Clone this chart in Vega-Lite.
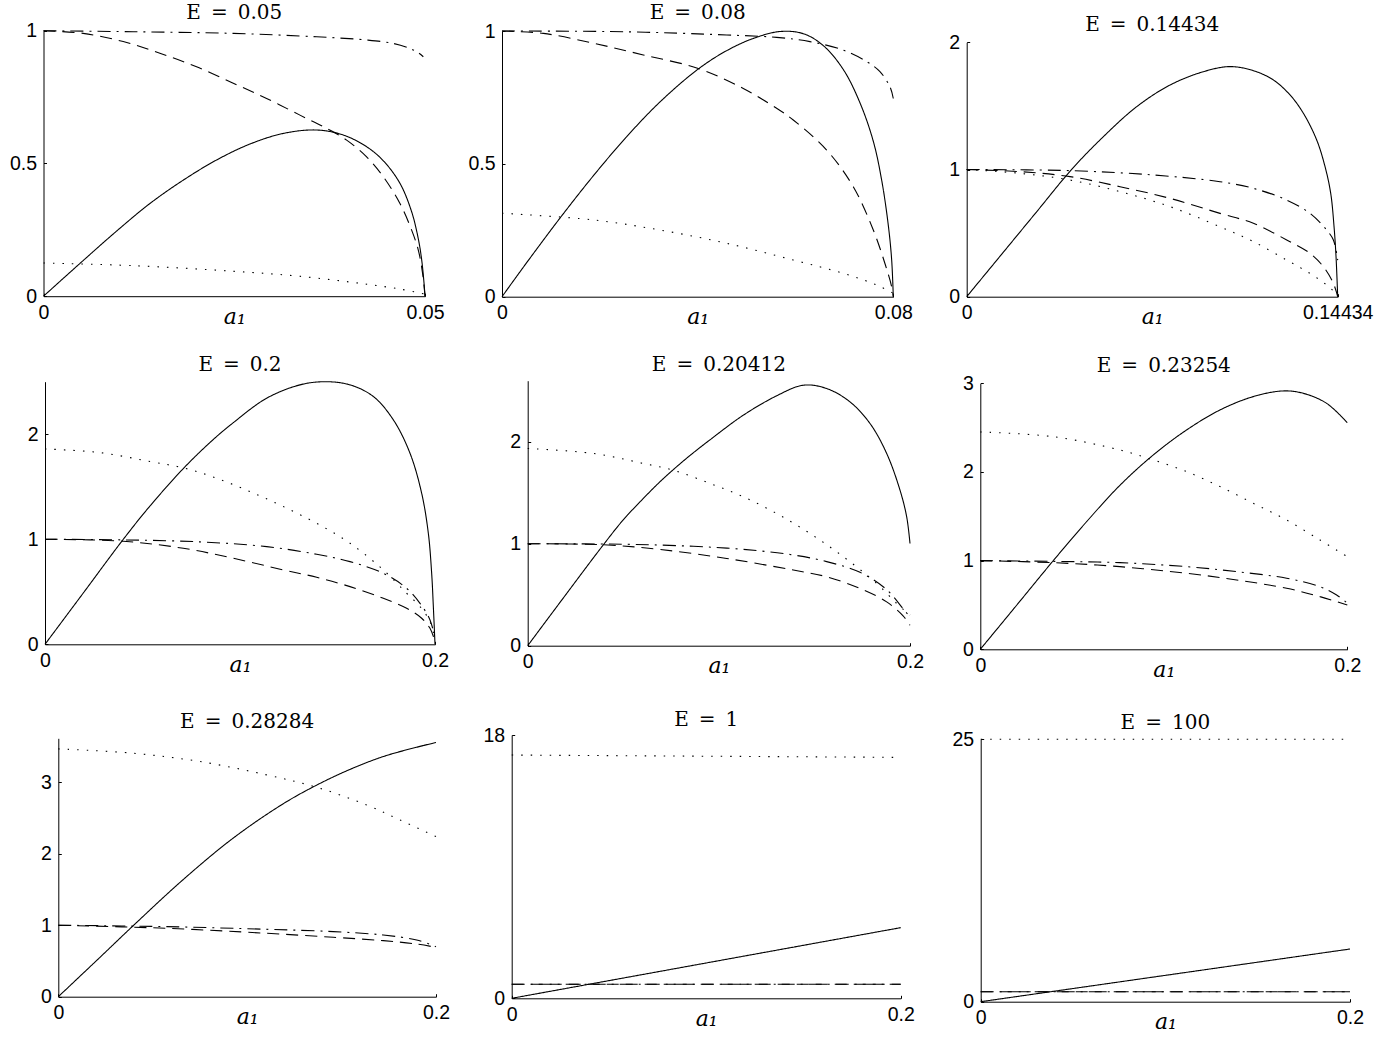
{
"$schema": "https://vega.github.io/schema/vega-lite/v6.json",
"padding": 0,
"background": "white",
"columns": 3,
"spacing": 0,
"bounds": "flush",
"align": "all",
"config": {
 "view": {"stroke": null},
 "font": "Liberation Sans",
 "axis": {"grid": false, "domainColor": "#000", "domainWidth": 1, "tickColor": "#000", "tickSize": -3, "tickWidth": 1,
   "labelFont": "Liberation Sans", "labelFontSize": 19.5, "labelColor": "#000", "labelFlush": false, "labelOverlap": false,
   "titleFont": "DejaVu Serif", "titleFontSize": 22, "titleFontStyle": "italic", "titleFontWeight": "normal", "titleColor": "#000"},
 "axisX": {"labelPadding": 10, "titleY": 27, "titleBaseline": "alphabetic", "format": ".6~g"},
 "axisY": {"labelPadding": 10, "format": ".6~g"},
 "title": {"font": "DejaVu Serif", "fontSize": 20, "fontWeight": "normal", "color": "#000", "anchor": "middle", "frame": "group", "baseline": "alphabetic"},
 "line": {"interpolate": "catmull-rom"}
},
"datasets": {
 "p1": [
  {"x":0,"y":0,"s":"solid"},{"x":0.00476,"y":0.123,"s":"solid"},{"x":0.00957,"y":0.245,"s":"solid"},{"x":0.01394,"y":0.349,"s":"solid"},{"x":0.01831,"y":0.437,"s":"solid"},{"x":0.02268,"y":0.513,"s":"solid"},{"x":0.02705,"y":0.573,"s":"solid"},{"x":0.03142,"y":0.613,"s":"solid"},{"x":0.0358,"y":0.626,"s":"solid"},{"x":0.03929,"y":0.607,"s":"solid"},{"x":0.04235,"y":0.563,"s":"solid"},{"x":0.04454,"y":0.51,"s":"solid"},{"x":0.04672,"y":0.425,"s":"solid"},{"x":0.04825,"y":0.318,"s":"solid"},{"x":0.04913,"y":0.215,"s":"solid"},{"x":0.04956,"y":0.138,"s":"solid"},{"x":0.04987,"y":0.05,"s":"solid"},{"x":0.05,"y":0,"s":"solid"},
  {"x":0,"y":1,"s":"dashed"},{"x":0.0052,"y":0.99,"s":"dashed"},{"x":0.01045,"y":0.959,"s":"dashed"},{"x":0.01525,"y":0.915,"s":"dashed"},{"x":0.02006,"y":0.864,"s":"dashed"},{"x":0.02487,"y":0.802,"s":"dashed"},{"x":0.02924,"y":0.745,"s":"dashed"},{"x":0.03361,"y":0.682,"s":"dashed"},{"x":0.03711,"y":0.632,"s":"dashed"},{"x":0.03973,"y":0.588,"s":"dashed"},{"x":0.04235,"y":0.525,"s":"dashed"},{"x":0.04454,"y":0.45,"s":"dashed"},{"x":0.04672,"y":0.349,"s":"dashed"},{"x":0.04825,"y":0.249,"s":"dashed"},{"x":0.04913,"y":0.173,"s":"dashed"},{"x":0.04969,"y":0.085,"s":"dashed"},{"x":0.05,"y":0,"s":"dashed"},
  {"x":0,"y":1,"s":"dashdot"},{"x":0.01176,"y":0.996,"s":"dashdot"},{"x":0.02487,"y":0.99,"s":"dashdot"},{"x":0.0358,"y":0.977,"s":"dashdot"},{"x":0.04235,"y":0.965,"s":"dashdot"},{"x":0.04585,"y":0.952,"s":"dashdot"},{"x":0.04803,"y":0.933,"s":"dashdot"},{"x":0.04913,"y":0.917,"s":"dashdot"},{"x":0.04978,"y":0.902,"s":"dashdot"},
  {"x":0,"y":0.125,"s":"dotted"},{"x":0.0118,"y":0.115,"s":"dotted"},{"x":0.0249,"y":0.094,"s":"dotted"},{"x":0.0336,"y":0.075,"s":"dotted"},{"x":0.0424,"y":0.045,"s":"dotted"},{"x":0.0467,"y":0.027,"s":"dotted"},{"x":0.05,"y":0.008,"s":"dotted"}
 ],
 "p2": [
  {"x":0,"y":0,"s":"solid"},{"x":0.00504,"y":0.128,"s":"solid"},{"x":0.01186,"y":0.296,"s":"solid"},{"x":0.01867,"y":0.455,"s":"solid"},{"x":0.02548,"y":0.602,"s":"solid"},{"x":0.0323,"y":0.733,"s":"solid"},{"x":0.04013,"y":0.857,"s":"solid"},{"x":0.04593,"y":0.926,"s":"solid"},{"x":0.05138,"y":0.972,"s":"solid"},{"x":0.05683,"y":0.998,"s":"solid"},{"x":0.0616,"y":0.99,"s":"solid"},{"x":0.06569,"y":0.945,"s":"solid"},{"x":0.06978,"y":0.855,"s":"solid"},{"x":0.07318,"y":0.73,"s":"solid"},{"x":0.07591,"y":0.585,"s":"solid"},{"x":0.07761,"y":0.44,"s":"solid"},{"x":0.07897,"y":0.27,"s":"solid"},{"x":0.07966,"y":0.14,"s":"solid"},{"x":0.08,"y":0,"s":"solid"},
  {"x":0,"y":1,"s":"dashed"},{"x":0.00845,"y":0.991,"s":"dashed"},{"x":0.01867,"y":0.954,"s":"dashed"},{"x":0.02889,"y":0.91,"s":"dashed"},{"x":0.04013,"y":0.859,"s":"dashed"},{"x":0.04933,"y":0.784,"s":"dashed"},{"x":0.05615,"y":0.709,"s":"dashed"},{"x":0.05955,"y":0.665,"s":"dashed"},{"x":0.06637,"y":0.552,"s":"dashed"},{"x":0.07182,"y":0.414,"s":"dashed"},{"x":0.07591,"y":0.251,"s":"dashed"},{"x":0.07829,"y":0.125,"s":"dashed"},{"x":0.07966,"y":0.038,"s":"dashed"},{"x":0.08,"y":0,"s":"dashed"},
  {"x":0,"y":1,"s":"dashdot"},{"x":0.02548,"y":0.997,"s":"dashdot"},{"x":0.04593,"y":0.985,"s":"dashdot"},{"x":0.05615,"y":0.976,"s":"dashdot"},{"x":0.06296,"y":0.96,"s":"dashdot"},{"x":0.06978,"y":0.928,"s":"dashdot"},{"x":0.07455,"y":0.885,"s":"dashdot"},{"x":0.07727,"y":0.847,"s":"dashdot"},{"x":0.07932,"y":0.79,"s":"dashdot"},{"x":0.08,"y":0.746,"s":"dashdot"},
  {"x":0,"y":0.314,"s":"dotted"},{"x":0.01867,"y":0.289,"s":"dotted"},{"x":0.0323,"y":0.251,"s":"dotted"},{"x":0.04593,"y":0.201,"s":"dotted"},{"x":0.05955,"y":0.138,"s":"dotted"},{"x":0.06978,"y":0.088,"s":"dotted"},{"x":0.07659,"y":0.044,"s":"dotted"},{"x":0.08,"y":0.013,"s":"dotted"}
 ],
 "p3": [
  {"x":0,"y":0,"s":"solid"},{"x":0.01427,"y":0.35,"s":"solid"},{"x":0.02723,"y":0.668,"s":"solid"},{"x":0.04085,"y":1.001,"s":"solid"},{"x":0.05317,"y":1.258,"s":"solid"},{"x":0.06614,"y":1.494,"s":"solid"},{"x":0.07911,"y":1.664,"s":"solid"},{"x":0.09208,"y":1.769,"s":"solid"},{"x":0.10246,"y":1.809,"s":"solid"},{"x":0.11153,"y":1.777,"s":"solid"},{"x":0.11931,"y":1.704,"s":"solid"},{"x":0.1258,"y":1.586,"s":"solid"},{"x":0.13099,"y":1.442,"s":"solid"},{"x":0.13617,"y":1.232,"s":"solid"},{"x":0.13942,"y":1.022,"s":"solid"},{"x":0.14162,"y":0.813,"s":"solid"},{"x":0.14292,"y":0.55,"s":"solid"},{"x":0.14369,"y":0.315,"s":"solid"},{"x":0.14434,"y":0,"s":"solid"},
  {"x":0,"y":1,"s":"dashdot"},{"x":0.0402,"y":0.991,"s":"dashdot"},{"x":0.07263,"y":0.957,"s":"dashdot"},{"x":0.09856,"y":0.904,"s":"dashdot"},{"x":0.11153,"y":0.852,"s":"dashdot"},{"x":0.1245,"y":0.76,"s":"dashdot"},{"x":0.13358,"y":0.655,"s":"dashdot"},{"x":0.14006,"y":0.524,"s":"dashdot"},{"x":0.14266,"y":0.446,"s":"dashdot"},{"x":0.14434,"y":0.288,"s":"dashdot"},
  {"x":0,"y":1,"s":"dashed"},{"x":0.02075,"y":0.983,"s":"dashed"},{"x":0.0402,"y":0.944,"s":"dashed"},{"x":0.05966,"y":0.865,"s":"dashed"},{"x":0.07911,"y":0.773,"s":"dashed"},{"x":0.09856,"y":0.655,"s":"dashed"},{"x":0.11153,"y":0.577,"s":"dashed"},{"x":0.1245,"y":0.446,"s":"dashed"},{"x":0.13358,"y":0.341,"s":"dashed"},{"x":0.13877,"y":0.236,"s":"dashed"},{"x":0.14266,"y":0.105,"s":"dashed"},{"x":0.14434,"y":0,"s":"dashed"},
  {"x":0,"y":1,"s":"dotted"},{"x":0.02075,"y":0.97,"s":"dotted"},{"x":0.0402,"y":0.917,"s":"dotted"},{"x":0.05966,"y":0.826,"s":"dotted"},{"x":0.07911,"y":0.708,"s":"dotted"},{"x":0.09856,"y":0.55,"s":"dotted"},{"x":0.11153,"y":0.433,"s":"dotted"},{"x":0.1245,"y":0.288,"s":"dotted"},{"x":0.13358,"y":0.183,"s":"dotted"},{"x":0.14006,"y":0.092,"s":"dotted"},{"x":0.14434,"y":0.013,"s":"dotted"}
 ],
 "p4": [
  {"x":0,"y":0,"s":"solid"},{"x":0.01966,"y":0.489,"s":"solid"},{"x":0.04017,"y":1.0,"s":"solid"},{"x":0.05385,"y":1.317,"s":"solid"},{"x":0.0718,"y":1.69,"s":"solid"},{"x":0.08632,"y":1.95,"s":"solid"},{"x":0.09658,"y":2.11,"s":"solid"},{"x":0.11368,"y":2.343,"s":"solid"},{"x":0.13077,"y":2.47,"s":"solid"},{"x":0.14359,"y":2.5,"s":"solid"},{"x":0.15641,"y":2.47,"s":"solid"},{"x":0.16838,"y":2.359,"s":"solid"},{"x":0.17863,"y":2.137,"s":"solid"},{"x":0.18718,"y":1.819,"s":"solid"},{"x":0.19316,"y":1.438,"s":"solid"},{"x":0.19658,"y":1.057,"s":"solid"},{"x":0.19829,"y":0.676,"s":"solid"},{"x":0.19915,"y":0.359,"s":"solid"},{"x":0.2,"y":0,"s":"solid"},
  {"x":0,"y":1.86,"s":"dotted"},{"x":0.02821,"y":1.825,"s":"dotted"},{"x":0.05385,"y":1.74,"s":"dotted"},{"x":0.0718,"y":1.676,"s":"dotted"},{"x":0.08803,"y":1.581,"s":"dotted"},{"x":0.10513,"y":1.454,"s":"dotted"},{"x":0.12222,"y":1.311,"s":"dotted"},{"x":0.13932,"y":1.152,"s":"dotted"},{"x":0.15641,"y":0.962,"s":"dotted"},{"x":0.1735,"y":0.708,"s":"dotted"},{"x":0.18547,"y":0.486,"s":"dotted"},{"x":0.19231,"y":0.359,"s":"dotted"},{"x":0.19744,"y":0.216,"s":"dotted"},{"x":0.2,"y":0.041,"s":"dotted"},
  {"x":0,"y":1,"s":"dashdot"},{"x":0.04017,"y":0.994,"s":"dashdot"},{"x":0.07949,"y":0.975,"s":"dashdot"},{"x":0.11368,"y":0.93,"s":"dashdot"},{"x":0.13932,"y":0.857,"s":"dashdot"},{"x":0.15641,"y":0.787,"s":"dashdot"},{"x":0.1735,"y":0.676,"s":"dashdot"},{"x":0.18547,"y":0.533,"s":"dashdot"},{"x":0.19231,"y":0.39,"s":"dashdot"},{"x":0.19744,"y":0.232,"s":"dashdot"},{"x":0.2,"y":0.057,"s":"dashdot"},
  {"x":0,"y":1,"s":"dashed"},{"x":0.04017,"y":0.981,"s":"dashed"},{"x":0.07094,"y":0.914,"s":"dashed"},{"x":0.09658,"y":0.819,"s":"dashed"},{"x":0.12222,"y":0.708,"s":"dashed"},{"x":0.13932,"y":0.638,"s":"dashed"},{"x":0.15641,"y":0.549,"s":"dashed"},{"x":0.1735,"y":0.438,"s":"dashed"},{"x":0.18547,"y":0.343,"s":"dashed"},{"x":0.19316,"y":0.248,"s":"dashed"},{"x":0.19744,"y":0.152,"s":"dashed"},{"x":0.2,"y":0.025,"s":"dashed"}
 ],
 "p5": [
  {"x":0,"y":0,"s":"solid"},{"x":0.01691,"y":0.425,"s":"solid"},{"x":0.03958,"y":0.99,"s":"solid"},{"x":0.05,"y":1.235,"s":"solid"},{"x":0.06051,"y":1.445,"s":"solid"},{"x":0.0685,"y":1.596,"s":"solid"},{"x":0.0762,"y":1.728,"s":"solid"},{"x":0.0858,"y":1.88,"s":"solid"},{"x":0.09538,"y":2.02,"s":"solid"},{"x":0.11282,"y":2.262,"s":"solid"},{"x":0.13025,"y":2.452,"s":"solid"},{"x":0.1442,"y":2.556,"s":"solid"},{"x":0.15641,"y":2.523,"s":"solid"},{"x":0.16862,"y":2.392,"s":"solid"},{"x":0.17908,"y":2.18,"s":"solid"},{"x":0.1878,"y":1.886,"s":"solid"},{"x":0.19477,"y":1.526,"s":"solid"},{"x":0.19826,"y":1.265,"s":"solid"},{"x":0.2,"y":1.003,"s":"solid"},
  {"x":0,"y":1.935,"s":"dotted"},{"x":0.03435,"y":1.886,"s":"dotted"},{"x":0.06051,"y":1.788,"s":"dotted"},{"x":0.0762,"y":1.722,"s":"dotted"},{"x":0.09538,"y":1.592,"s":"dotted"},{"x":0.11282,"y":1.461,"s":"dotted"},{"x":0.13025,"y":1.297,"s":"dotted"},{"x":0.14769,"y":1.101,"s":"dotted"},{"x":0.16513,"y":0.873,"s":"dotted"},{"x":0.18256,"y":0.611,"s":"dotted"},{"x":0.19302,"y":0.415,"s":"dotted"},{"x":0.2,"y":0.3,"s":"dotted"},
  {"x":0,"y":1,"s":"dashdot"},{"x":0.05179,"y":0.995,"s":"dashdot"},{"x":0.08666,"y":0.975,"s":"dashdot"},{"x":0.11282,"y":0.945,"s":"dashdot"},{"x":0.13897,"y":0.89,"s":"dashdot"},{"x":0.15641,"y":0.825,"s":"dashdot"},{"x":0.17384,"y":0.72,"s":"dashdot"},{"x":0.1878,"y":0.55,"s":"dashdot"},{"x":0.19651,"y":0.36,"s":"dashdot"},{"x":0.2,"y":0.28,"s":"dashdot"},
  {"x":0,"y":1,"s":"dashed"},{"x":0.03958,"y":0.99,"s":"dashed"},{"x":0.06922,"y":0.944,"s":"dashed"},{"x":0.1041,"y":0.856,"s":"dashed"},{"x":0.13897,"y":0.742,"s":"dashed"},{"x":0.15641,"y":0.676,"s":"dashed"},{"x":0.17384,"y":0.562,"s":"dashed"},{"x":0.1878,"y":0.43,"s":"dashed"},{"x":0.19651,"y":0.29,"s":"dashed"},{"x":0.2,"y":0.2,"s":"dashed"}
 ],
 "p6": [
  {"x":0,"y":0,"s":"solid"},{"x":0.01798,"y":0.451,"s":"solid"},{"x":0.03978,"y":1.0,"s":"solid"},{"x":0.05795,"y":1.44,"s":"solid"},{"x":0.07611,"y":1.85,"s":"solid"},{"x":0.09428,"y":2.192,"s":"solid"},{"x":0.11244,"y":2.474,"s":"solid"},{"x":0.13061,"y":2.699,"s":"solid"},{"x":0.14877,"y":2.85,"s":"solid"},{"x":0.16512,"y":2.914,"s":"solid"},{"x":0.17602,"y":2.887,"s":"solid"},{"x":0.18874,"y":2.774,"s":"solid"},{"x":0.2,"y":2.556,"s":"solid"},
  {"x":0,"y":2.451,"s":"dotted"},{"x":0.03978,"y":2.398,"s":"dotted"},{"x":0.07611,"y":2.248,"s":"dotted"},{"x":0.09428,"y":2.135,"s":"dotted"},{"x":0.11244,"y":2.004,"s":"dotted"},{"x":0.13061,"y":1.835,"s":"dotted"},{"x":0.14877,"y":1.647,"s":"dotted"},{"x":0.16694,"y":1.459,"s":"dotted"},{"x":0.18511,"y":1.233,"s":"dotted"},{"x":0.2,"y":1.045,"s":"dotted"},
  {"x":0,"y":1,"s":"dashdot"},{"x":0.03978,"y":0.992,"s":"dashdot"},{"x":0.07611,"y":0.977,"s":"dashdot"},{"x":0.11244,"y":0.932,"s":"dashdot"},{"x":0.13969,"y":0.876,"s":"dashdot"},{"x":0.16694,"y":0.801,"s":"dashdot"},{"x":0.18511,"y":0.707,"s":"dashdot"},{"x":0.19419,"y":0.613,"s":"dashdot"},{"x":0.2,"y":0.52,"s":"dashdot"},
  {"x":0,"y":1,"s":"dashed"},{"x":0.03978,"y":0.977,"s":"dashed"},{"x":0.07611,"y":0.932,"s":"dashed"},{"x":0.11244,"y":0.857,"s":"dashed"},{"x":0.13969,"y":0.782,"s":"dashed"},{"x":0.16694,"y":0.688,"s":"dashed"},{"x":0.18511,"y":0.594,"s":"dashed"},{"x":0.2,"y":0.5,"s":"dashed"}
 ],
 "p7": [
  {"x":0,"y":0,"s":"solid"},{"x":0.02207,"y":0.551,"s":"solid"},{"x":0.03972,"y":0.995,"s":"solid"},{"x":0.0662,"y":1.64,"s":"solid"},{"x":0.09267,"y":2.22,"s":"solid"},{"x":0.11915,"y":2.7,"s":"solid"},{"x":0.1368,"y":2.96,"s":"solid"},{"x":0.15446,"y":3.18,"s":"solid"},{"x":0.17211,"y":3.36,"s":"solid"},{"x":0.18976,"y":3.49,"s":"solid"},{"x":0.2,"y":3.556,"s":"solid"},
  {"x":0,"y":3.467,"s":"dotted"},{"x":0.03972,"y":3.406,"s":"dotted"},{"x":0.07502,"y":3.29,"s":"dotted"},{"x":0.11033,"y":3.103,"s":"dotted"},{"x":0.1368,"y":2.93,"s":"dotted"},{"x":0.16328,"y":2.683,"s":"dotted"},{"x":0.18094,"y":2.473,"s":"dotted"},{"x":0.2,"y":2.24,"s":"dotted"},
  {"x":0,"y":1,"s":"dashdot"},{"x":0.05737,"y":0.98,"s":"dashdot"},{"x":0.11033,"y":0.943,"s":"dashdot"},{"x":0.14563,"y":0.91,"s":"dashdot"},{"x":0.17211,"y":0.863,"s":"dashdot"},{"x":0.18976,"y":0.793,"s":"dashdot"},{"x":0.2,"y":0.7,"s":"dashdot"},
  {"x":0,"y":1,"s":"dashed"},{"x":0.05737,"y":0.957,"s":"dashed"},{"x":0.11033,"y":0.887,"s":"dashed"},{"x":0.14563,"y":0.831,"s":"dashed"},{"x":0.17211,"y":0.784,"s":"dashed"},{"x":0.18976,"y":0.737,"s":"dashed"},{"x":0.2,"y":0.691,"s":"dashed"}
 ],
 "p8": [
  {"x":0,"y":0,"s":"solid"},{"x":0.1,"y":2.415,"s":"solid"},{"x":0.2,"y":4.83,"s":"solid"},
  {"x":0,"y":16.63,"s":"dotted"},{"x":0.2,"y":16.47,"s":"dotted"},
  {"x":0,"y":0.96,"s":"dashed"},{"x":0.2,"y":0.96,"s":"dashed"},
  {"x":0,"y":0.96,"s":"dashdot"},{"x":0.2,"y":0.96,"s":"dashdot"}
 ],
 "p9": [
  {"x":0,"y":0,"s":"solid"},{"x":0.2,"y":5.02,"s":"solid"},
  {"x":0,"y":25,"s":"dotted"},{"x":0.2,"y":25,"s":"dotted"},
  {"x":0,"y":0.95,"s":"dashed"},{"x":0.2,"y":0.95,"s":"dashed"},
  {"x":0,"y":0.95,"s":"dashdot"},{"x":0.2,"y":0.95,"s":"dashdot"}
 ]
},
"concat": [
 {"width": 459, "height": 352, "data": {"name": "p1"},
  "title": {"text": "E\u2002=\u20020.05", "dx": 4.75, "offset": -23},
  "mark": {"type": "line", "color": "#000", "strokeWidth": 1.1},
  "encoding": {
   "x": {"field": "x", "type": "quantitative", "scale": {"domain": [0, 0.05], "range": [43.5, 425], "nice": false, "zero": false}, "axis": {"values": [0, 0.05], "offset": -55.8, "title": "a\u2081"}},
   "y": {"field": "y", "type": "quantitative", "scale": {"domain": [0, 1], "range": [296.2, 30.7], "nice": false, "zero": false}, "axis": {"values": [0, 0.5, 1], "offset": -43.5, "title": null}},
   "strokeDash": {"field": "s", "type": "nominal", "legend": null, "scale": {"domain": ["solid", "dashed", "dashdot", "dotted"], "range": [[1, 0], [12, 7], [13, 6, 2, 6], [1.5, 8]]}}
  }},
 {"width": 459, "height": 352, "data": {"name": "p2"},
  "title": {"text": "E\u2002=\u20020.08", "dx": 9.15, "offset": -23},
  "mark": {"type": "line", "color": "#000", "strokeWidth": 1.1},
  "encoding": {
   "x": {"field": "x", "type": "quantitative", "scale": {"domain": [0, 0.08], "range": [43, 434.3], "nice": false, "zero": false}, "axis": {"values": [0, 0.08], "offset": -55.3, "title": "a\u2081"}},
   "y": {"field": "y", "type": "quantitative", "scale": {"domain": [0, 1], "range": [296.7, 31], "nice": false, "zero": false}, "axis": {"values": [0, 0.5, 1], "offset": -43, "title": null}},
   "strokeDash": {"field": "s", "type": "nominal", "legend": null, "scale": {"domain": ["solid", "dashed", "dashdot", "dotted"], "range": [[1, 0], [12, 7], [13, 6, 2, 6], [1.5, 8]]}}
  }},
 {"width": 459, "height": 352, "data": {"name": "p3"},
  "title": {"text": "E\u2002=\u20020.14434", "dx": 4.7, "offset": -35},
  "mark": {"type": "line", "color": "#000", "strokeWidth": 1.1},
  "encoding": {
   "x": {"field": "x", "type": "quantitative", "scale": {"domain": [0, 0.14434], "range": [48.7, 419.7], "nice": false, "zero": false}, "axis": {"values": [0, 0.14434], "offset": -55.3, "title": "a\u2081"}},
   "y": {"field": "y", "type": "quantitative", "scale": {"domain": [0, 2], "range": [296.7, 42.3], "nice": false, "zero": false}, "axis": {"values": [0, 1, 2], "offset": -48.7, "title": null}},
   "strokeDash": {"field": "s", "type": "nominal", "legend": null, "scale": {"domain": ["solid", "dashed", "dashdot", "dotted"], "range": [[1, 0], [12, 7], [13, 6, 2, 6], [1.5, 8]]}}
  }},
 {"width": 459, "height": 352, "data": {"name": "p4"},
  "title": {"text": "E\u2002=\u20020.2", "dx": 10.5, "offset": -23},
  "mark": {"type": "line", "color": "#000", "strokeWidth": 1.1},
  "encoding": {
   "x": {"field": "x", "type": "quantitative", "scale": {"domain": [0, 0.2], "range": [45, 435], "nice": false, "zero": false}, "axis": {"values": [0, 0.2], "offset": -59.7, "title": "a\u2081"}},
   "y": {"field": "y", "type": "quantitative", "scale": {"domain": [0, 2.5], "range": [292.3, 29.7], "nice": false, "zero": false}, "axis": {"values": [0, 1, 2], "offset": -45, "title": null}},
   "strokeDash": {"field": "s", "type": "nominal", "legend": null, "scale": {"domain": ["solid", "dashed", "dashdot", "dotted"], "range": [[1, 0], [12, 7], [13, 6, 2, 6], [1.5, 8]]}}
  }},
 {"width": 459, "height": 352, "data": {"name": "p5"},
  "title": {"text": "E\u2002=\u20020.20412", "dx": 30.35, "offset": -22.5},
  "mark": {"type": "line", "color": "#000", "strokeWidth": 1.1},
  "encoding": {
   "x": {"field": "x", "type": "quantitative", "scale": {"domain": [0, 0.2], "range": [68.7, 451], "nice": false, "zero": false}, "axis": {"values": [0, 0.2], "offset": -58.3, "title": "a\u2081"}},
   "y": {"field": "y", "type": "quantitative", "scale": {"domain": [0, 2.6], "range": [293.7, 28.7], "nice": false, "zero": false}, "axis": {"values": [0, 1, 2], "offset": -68.7, "title": null}},
   "strokeDash": {"field": "s", "type": "nominal", "legend": null, "scale": {"domain": ["solid", "dashed", "dashdot", "dotted"], "range": [[1, 0], [12, 7], [13, 6, 2, 6], [1.5, 8]]}}
  }},
 {"width": 459, "height": 352, "data": {"name": "p6"},
  "title": {"text": "E\u2002=\u20020.23254", "dx": 16.3, "offset": -24},
  "mark": {"type": "line", "color": "#000", "strokeWidth": 1.1},
  "encoding": {
   "x": {"field": "x", "type": "quantitative", "scale": {"domain": [0, 0.2], "range": [62.3, 429.3], "nice": false, "zero": false}, "axis": {"values": [0, 0.2], "offset": -54.7, "title": "a\u2081"}},
   "y": {"field": "y", "type": "quantitative", "scale": {"domain": [0, 3], "range": [297.3, 31.3], "nice": false, "zero": false}, "axis": {"values": [0, 1, 2, 3], "offset": -62.3, "title": null}},
   "strokeDash": {"field": "s", "type": "nominal", "legend": null, "scale": {"domain": ["solid", "dashed", "dashdot", "dotted"], "range": [[1, 0], [12, 7], [13, 6, 2, 6], [1.5, 8]]}}
  }},
 {"width": 459, "height": 352, "data": {"name": "p7"},
  "title": {"text": "E\u2002=\u20020.28284", "dx": 17.65, "offset": -27.5},
  "mark": {"type": "line", "color": "#000", "strokeWidth": 1.1},
  "encoding": {
   "x": {"field": "x", "type": "quantitative", "scale": {"domain": [0, 0.2], "range": [58.3, 436], "nice": false, "zero": false}, "axis": {"values": [0, 0.2], "offset": -59.3, "title": "a\u2081"}},
   "y": {"field": "y", "type": "quantitative", "scale": {"domain": [0, 3.615], "range": [292.7, 34.3], "nice": false, "zero": false}, "axis": {"values": [0, 1, 2, 3], "offset": -58.3, "title": null}},
   "strokeDash": {"field": "s", "type": "nominal", "legend": null, "scale": {"domain": ["solid", "dashed", "dashdot", "dotted"], "range": [[1, 0], [12, 7], [13, 6, 2, 6], [1.5, 8]]}}
  }},
 {"width": 459, "height": 352, "data": {"name": "p8"},
  "title": {"text": "E\u2002=\u20021", "dx": 17.7, "offset": -25.5},
  "mark": {"type": "line", "color": "#000", "strokeWidth": 1.1},
  "encoding": {
   "x": {"field": "x", "type": "quantitative", "scale": {"domain": [0, 0.2], "range": [52.7, 441.7], "nice": false, "zero": false}, "axis": {"values": [0, 0.2], "offset": -57.7, "title": "a\u2081"}},
   "y": {"field": "y", "type": "quantitative", "scale": {"domain": [0, 18], "range": [294.3, 31], "nice": false, "zero": false}, "axis": {"values": [0, 18], "offset": -52.7, "title": null}},
   "strokeDash": {"field": "s", "type": "nominal", "legend": null, "scale": {"domain": ["solid", "dashed", "dashdot", "dotted"], "range": [[1, 0], [12, 7], [13, 6, 2, 6], [1.5, 8]]}}
  }},
 {"width": 459, "height": 352, "data": {"name": "p9"},
  "title": {"text": "E\u2002=\u2002100", "dx": 17.85, "offset": -28.5},
  "mark": {"type": "line", "color": "#000", "strokeWidth": 1.1},
  "encoding": {
   "x": {"field": "x", "type": "quantitative", "scale": {"domain": [0, 0.2], "range": [62.7, 432], "nice": false, "zero": false}, "axis": {"values": [0, 0.2], "offset": -54.3, "title": "a\u2081"}},
   "y": {"field": "y", "type": "quantitative", "scale": {"domain": [0, 25], "range": [297.7, 35.3], "nice": false, "zero": false}, "axis": {"values": [0, 25], "offset": -62.7, "title": null}},
   "strokeDash": {"field": "s", "type": "nominal", "legend": null, "scale": {"domain": ["solid", "dashed", "dashdot", "dotted"], "range": [[1, 0], [12, 7], [13, 6, 2, 6], [1.5, 8]]}}
  }}
]
}
